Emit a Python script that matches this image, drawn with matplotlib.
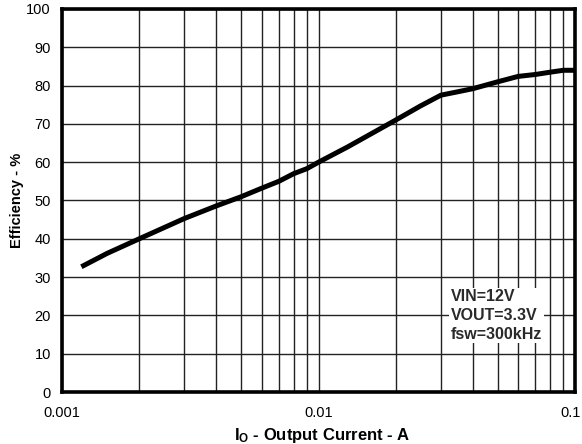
import matplotlib
matplotlib.use("Agg")
import matplotlib.pyplot as plt
import matplotlib.transforms as mtransforms
from matplotlib.ticker import FixedLocator, NullFormatter, FixedFormatter

plt.rcParams['font.family'] = ['Liberation Sans', 'DejaVu Sans']
plt.rcParams['mathtext.fontset'] = 'custom'
plt.rcParams['mathtext.bf'] = 'Liberation Sans:bold'
plt.rcParams['mathtext.rm'] = 'Liberation Sans'

current = [0.00119, 0.0015, 0.002, 0.003, 0.004, 0.005, 0.006, 0.007, 0.008, 0.009,
           0.01, 0.013, 0.02, 0.025, 0.03, 0.035, 0.04, 0.05, 0.06, 0.07, 0.08, 0.09, 0.1]
efficiency = [32.7, 36.2, 40.0, 45.3, 48.6, 51.0, 53.2, 55.0, 57.0, 58.3,
              60.0, 64.0, 71.0, 74.7, 77.5, 78.4, 79.2, 81.0, 82.4, 82.9, 83.5, 84.0, 84.0]

x_ticks = [0.001, 0.01, 0.1]
x_tick_labels = ["0.001", "0.01", "0.1"]
y_ticks = list(range(0, 101, 10))
annotation = "VIN=12V\nVOUT=3.3V\nfsw=300kHz"

fig = plt.figure(figsize=(5.82, 4.44), dpi=100)
ax = fig.add_axes([62/582, 1-392/444, 513/582, 383/444])

ax.plot(current, efficiency, color='black', lw=3.6, solid_capstyle='butt', zorder=3)
ax.set_xscale('log')
ax.set_xlim(0.001, 0.1)
ax.set_ylim(0, 100)

minor = [m * 10.0**e for e in (-3, -2) for m in range(2, 10)]
ax.xaxis.set_major_locator(FixedLocator(x_ticks))
ax.xaxis.set_major_formatter(FixedFormatter(x_tick_labels))
ax.xaxis.set_minor_locator(FixedLocator(minor))
ax.xaxis.set_minor_formatter(NullFormatter())
ax.set_yticks(y_ticks)

ax.grid(True, which='both', axis='x', color='#222222', lw=1.0)
ax.grid(True, which='major', axis='y', color='#222222', lw=1.0)
ax.tick_params(which='both', length=0, labelsize=10.5)
ax.tick_params(axis='y', pad=8)
ax.tick_params(axis='x', pad=10)
for s in ax.spines.values():
    s.set_linewidth(2.6)
    s.set_zorder(4)

fig.canvas.draw()
last = ax.get_xticklabels()[-1]
last.set_transform(last.get_transform() + mtransforms.ScaledTranslation(-4/100, 0, fig.dpi_scale_trans))

ax.set_xlabel(r"$\mathbf{I_O}$ - Output Current - A", fontsize=12, fontweight='bold')
ax.xaxis.label.set_va('center')
ax.xaxis.set_label_coords((322-62)/513, (392-435)/383)
ax.set_ylabel("Efficiency - %", fontsize=10.5, fontweight='bold')
ax.yaxis.label.set_va('center')
ax.yaxis.set_label_coords((17-62)/513, 0.5)

ax.text(0.758, 0.268, annotation, transform=ax.transAxes, fontsize=11.5, fontweight='bold',
        va='top', ha='left', linespacing=1.3, color='#2a2a2a',
        bbox=dict(facecolor='white', edgecolor='none', pad=1), zorder=5)

fig.savefig("out.png", dpi=100)
